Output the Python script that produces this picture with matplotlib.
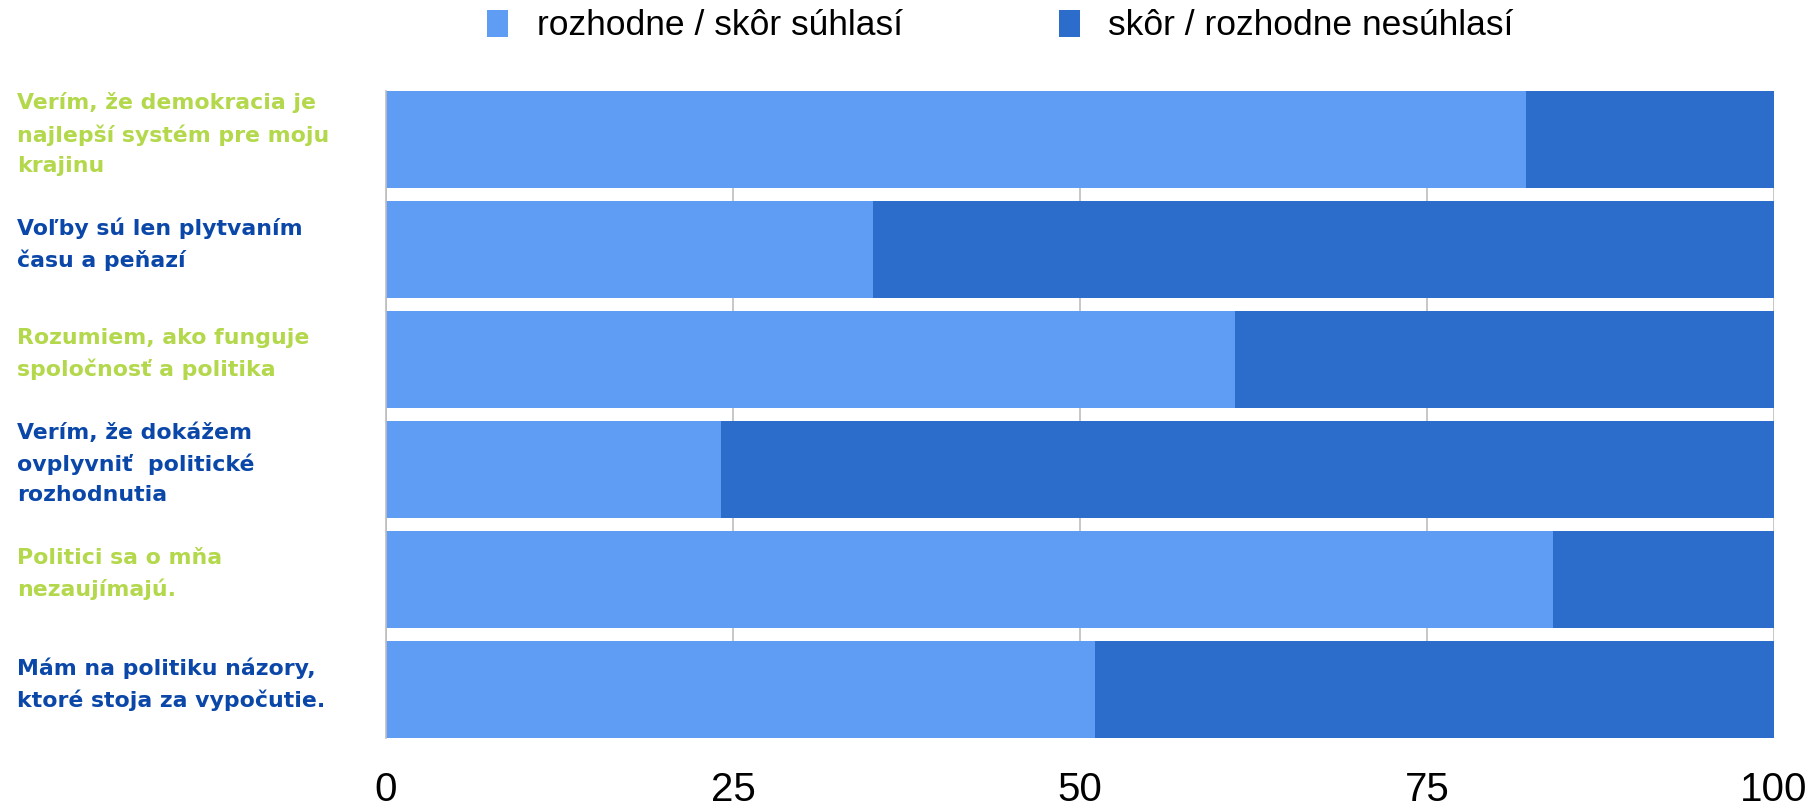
import matplotlib
matplotlib.use("Agg")
import matplotlib.pyplot as plt
from matplotlib.patches import Patch
from matplotlib.transforms import blended_transform_factory

categories = [
    "Verím, že demokracia je\nnajlepší systém pre moju\nkrajinu",
    "Voľby sú len plytvaním\nčasu a peňazí",
    "Rozumiem, ako funguje\nspoločnosť a politika",
    "Verím, že dokážem\novplyvniť  politické\nrozhodnutia",
    "Politici sa o mňa\nnezaujímajú.",
    "Mám na politiku názory,\nktoré stoja za vypočutie.",
]
agree = [82.1, 35.1, 61.2, 24.1, 84.1, 51.1]
disagree = [100 - v for v in agree]
series_names = ["rozhodne / skôr súhlasí", "skôr / rozhodne nesúhlasí"]
label_colors = ["#B3D84B", "#0A47A8", "#B3D84B", "#0A47A8", "#B3D84B", "#0A47A8"]
xticks = [0, 25, 50, 75, 100]

c_light = "#5E9DF3"
c_dark = "#2C6DCB"

fig = plt.figure(figsize=(18.09, 8.08), dpi=100)
ax = fig.add_axes([386 / 1809, 1 - 738 / 808, (1774 - 386) / 1809, (738 - 91) / 808])

y = list(range(len(categories)))
h = 0.88
ax.barh(y, agree, height=h, color=c_light, zorder=2)
ax.barh(y, disagree, left=agree, height=h, color=c_dark, zorder=2)

ax.set_xlim(0, 100)
ax.set_ylim(len(categories) - 1 + h / 2, -h / 2)
ax.set_xticks(xticks)
ax.set_xticklabels([str(t) for t in xticks], fontsize=29, family="Liberation Sans")
ax.tick_params(axis="x", length=0, pad=24)
ax.set_yticks([])
ax.grid(axis="x", color="#BDBDBD", linewidth=1.2, zorder=0)
for s in ["top", "bottom", "right"]:
    ax.spines[s].set_visible(False)
ax.spines["left"].set_color("#BDBDBD")
ax.spines["left"].set_linewidth(1.2)

tr = blended_transform_factory(fig.transFigure, ax.transData)
for yi, lab, col in zip(y, categories, label_colors):
    ax.text(17 / 1809, yi - 0.05, lab, transform=tr, ha="left", va="center",
            fontsize=15.8, fontweight="bold", color=col, family="DejaVu Sans",
            linespacing=1.62)

handles = [Patch(facecolor=c_light, edgecolor="none"), Patch(facecolor=c_dark, edgecolor="none")]
fig.legend(handles, series_names, loc="center", bbox_to_anchor=(0.553, 0.968), ncol=2,
           frameon=False, prop={"family": "Liberation Sans", "size": 25.5},
           handlelength=0.6, handleheight=0.8, handletextpad=0.8, columnspacing=4.4)

fig.savefig("out.png", dpi=100)
